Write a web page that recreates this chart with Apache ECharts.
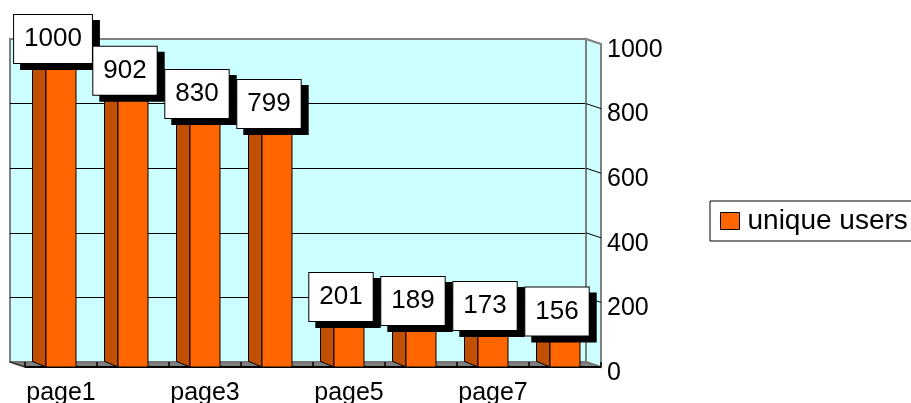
<!DOCTYPE html>
<html>
<head>
<meta charset="utf-8">
<script src="https://cdn.jsdelivr.net/npm/echarts@6/dist/echarts.min.js"></script>
<style>
html,body{margin:0;padding:0;background:#fff;}
#chart{width:911px;height:403px;}
</style>
</head>
<body>
<div id="chart"></div>
<script>
// ---- data ----
var categories = ['page1','page2','page3','page4','page5','page6','page7','page8'];
var uniqueUsers = [1000, 902, 830, 799, 201, 189, 173, 156];
var seriesName = 'unique users';
var yTicks = [0, 200, 400, 600, 800, 1000];

// ---- style constants ----
var FONT = "'Liberation Sans', Arial, sans-serif";
var DX = 15, DY = 5;          // wall/floor depth
var BDX = 13.5, BDY = 5.6;    // bar depth
var HALF = 15;                // half front-face width

var chart = echarts.init(document.getElementById('chart'));

function decorRender(params, api) {
  var tl = api.coord([0, yTicks[yTicks.length - 1]]);
  var br = api.coord([categories.length - 1, yTicks[0]]);
  var bw = api.size([1, 0])[0];
  var L = tl[0] - bw / 2, R = br[0] + bw / 2, T = tl[1], B = br[1];
  var children = [];
  children.push({type: 'polygon', shape: {points: [[R, T], [R, B], [R - DX, B - DY], [R - DX, T - DY]]},
    style: {fill: '#CCFFFF', stroke: '#808080', lineWidth: 2}});
  for (var i = 1; i < yTicks.length - 1; i++) {
    var y = api.coord([0, yTicks[i]])[1];
    children.push({type: 'line', shape: {x1: R - DX, y1: y - DY, x2: R, y2: y},
      style: {stroke: '#000', lineWidth: 1}});
  }
  children.push({type: 'polygon', shape: {points: [[L - DX, B - DY], [R - DX, B - DY], [R, B], [L, B]]},
    style: {fill: '#808080', stroke: '#6a6a6a', lineWidth: 1}});
  children.push({type: 'line', shape: {x1: L, y1: B, x2: R, y2: B}, style: {stroke: '#000', lineWidth: 2}});
  children.push({type: 'line', shape: {x1: L - DX, y1: B - DY, x2: L, y2: B}, style: {stroke: '#333', lineWidth: 1.5}});
  for (var k = 0; k <= categories.length; k++) {
    var x = L + k * bw;
    children.push({type: 'line', shape: {x1: x, y1: B - DY, x2: x, y2: B}, style: {stroke: '#000', lineWidth: 1.5}});
  }
  return {type: 'group', children: children};
}

function barRender(params, api) {
  var idx = api.value(0), v = api.value(1);
  var top = api.coord([idx, v]);
  var base = api.coord([idx, 0]);
  var cx = top[0], yT = top[1], yB = base[1];
  var x0 = cx - HALF, x1 = cx + HALF;
  var labelStyle = {
    text: String(v),
    font: '26px ' + FONT,
    align: 'center',
    verticalAlign: 'middle',
    lineHeight: 32,
    padding: [8, 10, 8, 10]
  };
  var lx = cx - 8, ly = yT - 5;
  return {type: 'group', children: [
    {type: 'polygon', shape: {points: [[x0, yT], [x0, yB], [x0 - BDX, yB - BDY], [x0 - BDX, yT - BDY]]},
      style: {fill: '#C04F00', stroke: '#000', lineWidth: 1}},
    {type: 'polygon', shape: {points: [[x0, yT], [x1, yT], [x1 - BDX, yT - BDY], [x0 - BDX, yT - BDY]]},
      style: {fill: '#FF8533', stroke: '#000', lineWidth: 1}},
    {type: 'rect', shape: {x: x0, y: yT, width: x1 - x0, height: yB - yT},
      style: {fill: '#FF6600', stroke: '#000', lineWidth: 1}},
    {type: 'text', x: lx + 7, y: ly + 6, z2: 99,
      style: Object.assign({}, labelStyle, {fill: '#000', backgroundColor: '#000', borderColor: '#000', borderWidth: 1})},
    {type: 'text', x: lx, y: ly, z2: 100,
      style: Object.assign({}, labelStyle, {fill: '#000', backgroundColor: '#fff', borderColor: '#000', borderWidth: 1})}
  ]};
}

var option = {
  animation: false,
  backgroundColor: '#fff',
  grid: [
    {left: 10, top: 39, width: 576, height: 323, show: true, backgroundColor: '#CCFFFF',
      borderColor: '#808080', borderWidth: 2, containLabel: false, outerBoundsMode: 'none'},
    {left: 25, top: 44, width: 576, height: 323, containLabel: false, outerBoundsMode: 'none'}
  ],
  xAxis: [
    {gridIndex: 0, type: 'category', data: categories, show: false},
    {gridIndex: 1, type: 'category', data: categories,
      axisLine: {show: false}, axisTick: {show: false},
      axisLabel: {interval: 1, fontSize: 25, fontFamily: FONT, color: '#000', margin: 14}}
  ],
  yAxis: [
    {gridIndex: 0, type: 'value', min: 0, max: 1000, interval: 200,
      axisLine: {show: false}, axisTick: {show: false}, axisLabel: {show: false},
      splitLine: {show: true, showMinLine: false, showMaxLine: false, lineStyle: {color: '#000', width: 1}}},
    {gridIndex: 1, type: 'value', position: 'right', min: 0, max: 1000, interval: 200,
      axisLine: {show: true, lineStyle: {color: '#000', width: 2}},
      axisTick: {show: false},
      splitLine: {show: false},
      axisLabel: {fontSize: 25, fontFamily: FONT, color: '#000', margin: 6,
        verticalAlign: 'top', lineHeight: 12,
        formatter: function (v) { return String(v); }}}
  ],
  legend: {
    left: 710, top: 201,
    padding: [6, 10, 6, 10],
    borderColor: '#000', borderWidth: 1, backgroundColor: '#fff',
    itemWidth: 19, itemHeight: 17,
    data: [{name: seriesName, icon: 'rect', itemStyle: {borderColor: '#000', borderWidth: 1}}],
    textStyle: {fontSize: 28, fontFamily: FONT, color: '#000', padding: [0, 0, 0, 3]}
  },
  series: [
    {type: 'custom', name: '_decor', xAxisIndex: 1, yAxisIndex: 1, data: [[0, 0]],
      renderItem: decorRender, silent: true, z: 1},
    {type: 'custom', name: seriesName, xAxisIndex: 1, yAxisIndex: 1,
      itemStyle: {color: '#FF6600'},
      data: uniqueUsers.map(function (v, i) { return [i, v]; }),
      encode: {x: 0, y: 1},
      renderItem: barRender, z: 3}
  ]
};
chart.setOption(option);
</script>
</body>
</html>
